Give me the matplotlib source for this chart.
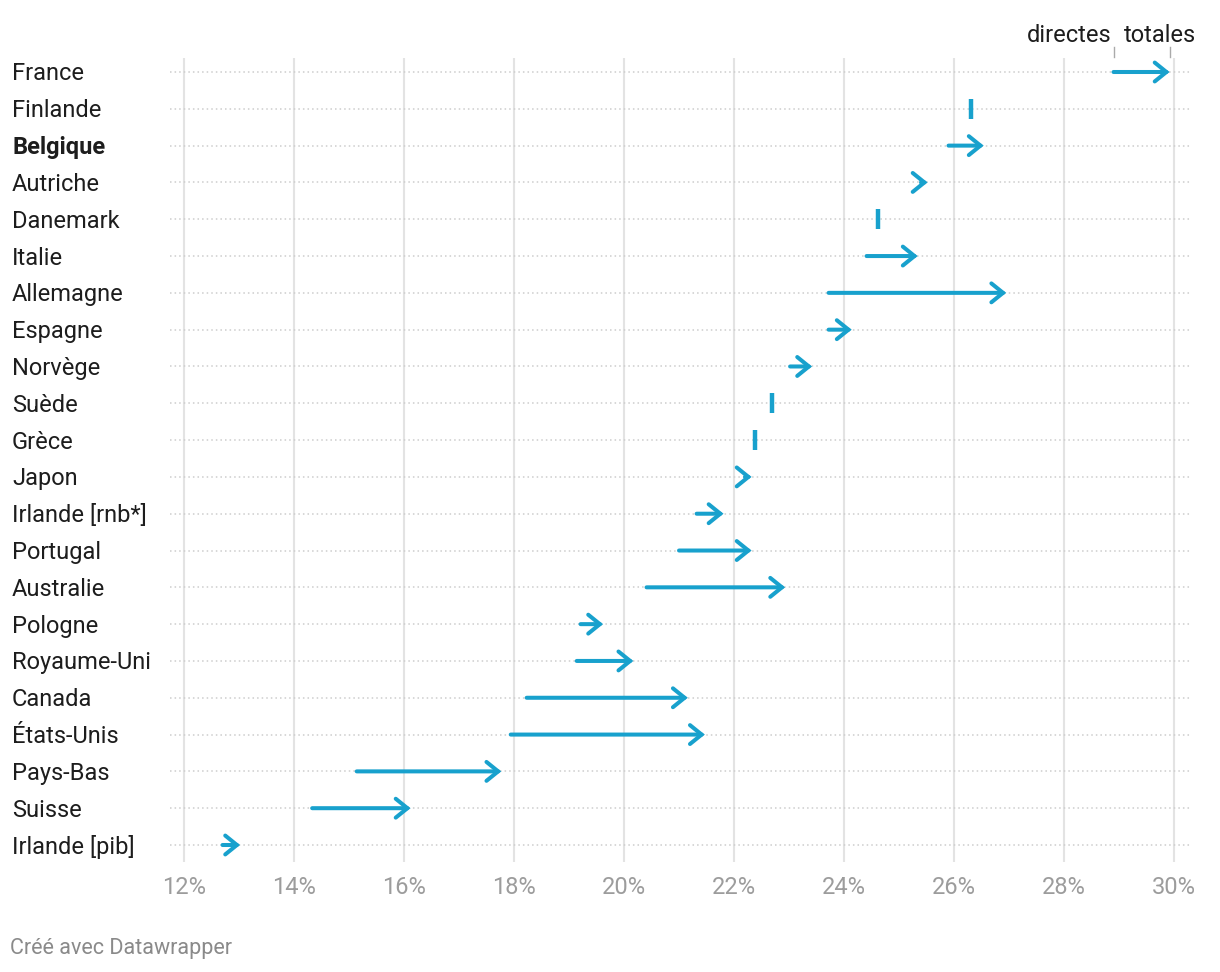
import matplotlib
matplotlib.use("Agg")
import matplotlib.pyplot as plt
from matplotlib.transforms import blended_transform_factory, offset_copy

plt.rcParams['font.family'] = ['Roboto', 'DejaVu Sans']

countries = ["France", "Finlande", "Belgique", "Autriche", "Danemark", "Italie",
             "Allemagne", "Espagne", "Norvège", "Suède", "Grèce", "Japon",
             "Irlande [rnb*]", "Portugal", "Australie", "Pologne", "Royaume-Uni",
             "Canada", "États-Unis", "Pays-Bas", "Suisse", "Irlande [pib]"]
directes = [28.9, 26.3, 25.9, 25.4, 24.62, 24.41, 23.72, 23.72, 23.02, 22.69, 22.39, 22.2,
            21.32, 21.0, 20.41, 19.21, 19.14, 18.23, 17.94, 15.14, 14.33, 12.7]
totales = [29.92, 26.3, 26.54, 25.52, 24.62, 25.34, 26.95, 24.14, 23.42, 22.69, 22.39, 22.32,
           21.81, 22.32, 22.93, 19.62, 20.17, 21.16, 21.47, 17.77, 16.12, 13.02]
highlight = "Belgique"
xticks = [12, 14, 16, 18, 20, 22, 24, 26, 28, 30]
xtick_labels = [f"{t}%" for t in xticks]

BLUE = "#18a1cd"
W, H = 1220, 972
fig = plt.figure(figsize=(W / 100, H / 100), dpi=100)
ax = fig.add_axes([170 / W, 1 - 862 / H, 1020 / W, 804 / H])

n = len(countries)
sp = (845 - 72) / (n - 1)
ax.set_ylim(n - 1 + 17 / sp, -14 / sp)
ax.set_xlim(12 - 14 / 55, 30 + 16 / 55)

for s in ax.spines.values():
    s.set_visible(False)
ax.set_yticks([])
ax.set_xticks(xticks)
ax.set_xticklabels(xtick_labels, fontsize=17, color="#9c9c9c")
ax.tick_params(axis="x", length=0, pad=10)

for t in xticks:
    ax.axvline(t, color="#e3e3e3", lw=1.5, zorder=0)
for i in range(n):
    ax.axhline(i, color="#cdcdcd", lw=1.1, ls=(0, (1, 2)), zorder=0)

lab_tr = offset_copy(blended_transform_factory(fig.transFigure, ax.transData),
                     fig=fig, y=-2, units="dots")
for i, (c, d, tt) in enumerate(zip(countries, directes, totales)):
    ax.text(12 / W, i, c, transform=lab_tr, ha="left", va="center", fontsize=17,
            color="#1d1d1d", fontweight="bold" if c == highlight else "normal")
    if abs(tt - d) < 1e-9:
        ax.plot([d], [i], marker="|", ms=14, mew=3.2, color=BLUE, zorder=3)
    else:
        ax.annotate("", xy=(tt, i), xytext=(d, i),
                    arrowprops=dict(arrowstyle="->,head_length=0.42,head_width=0.34",
                                    color=BLUE, lw=2.9, shrinkA=0, shrinkB=0,
                                    mutation_scale=20, capstyle="round",
                                    joinstyle="miter"),
                    zorder=3)

# legend-like labels above France
top_tr = blended_transform_factory(ax.transData, fig.transFigure)
for val in (directes[0], totales[0]):
    ax.plot([val, val], [1 - 47 / H, 1 - 57 / H], transform=top_tr, color="#aaaaaa",
            lw=1, clip_on=False)
ax.text(directes[0], 1 - 34 / H, "directes",
        transform=offset_copy(top_tr, fig=fig, x=-2, y=-2, units="dots"),
        ha="right", va="center", fontsize=17, color="#1d1d1d")
ax.text(totales[0], 1 - 34 / H, "totales",
        transform=offset_copy(top_tr, fig=fig, x=26, y=-2, units="dots"),
        ha="right", va="center", fontsize=17, color="#1d1d1d")

fig.text(10 / W, 1 - 948 / H, "Créé avec Datawrapper", ha="left", va="center",
         fontsize=15.5, color="#8a8a8a")

fig.savefig("out.png", dpi=100, facecolor="white")
